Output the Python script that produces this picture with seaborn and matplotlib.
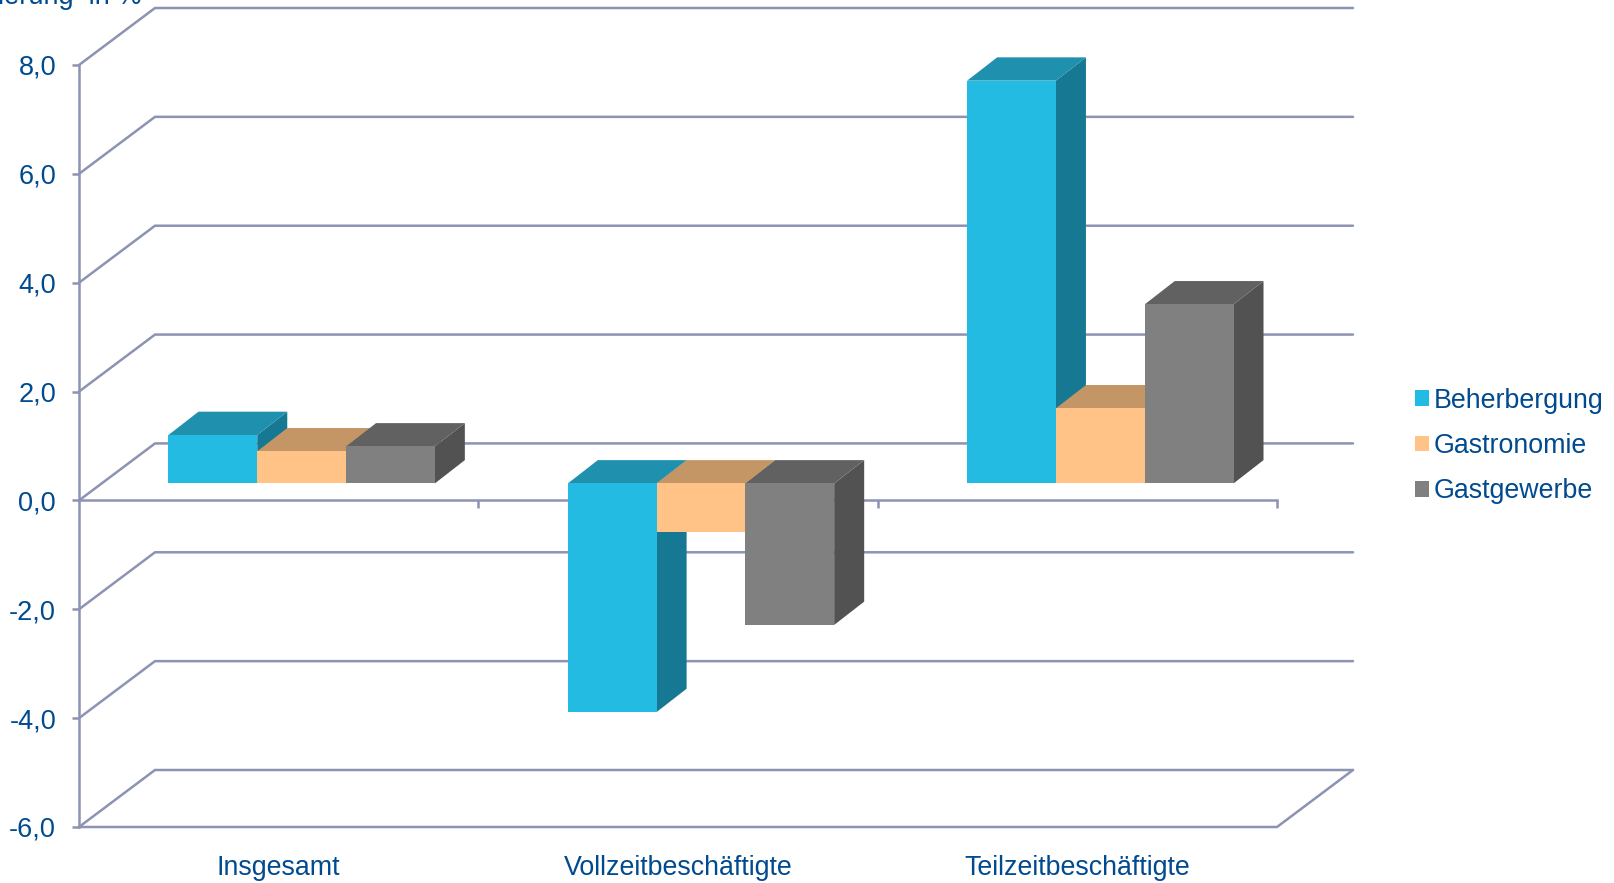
import matplotlib
matplotlib.use("Agg")
import matplotlib.pyplot as plt
from matplotlib.patches import Polygon
from matplotlib.transforms import Affine2D
import pandas as pd
import seaborn as sns

categories = ["Insgesamt", "Vollzeitbeschäftigte", "Teilzeitbeschäftigte"]
beherbergung = [0.89, -4.2, 7.4]
gastronomie = [0.59, -0.9, 1.38]
gastgewerbe = [0.68, -2.6, 3.29]
series_names = ["Beherbergung", "Gastronomie", "Gastgewerbe"]
front_colors = ["#24BBE3", "#FFC388", "#808080"]
top_colors = ["#1F90AE", "#C49666", "#616161"]
side_colors = ["#177893", "#A87F55", "#525252"]
y_ticks = [-6, -4, -2, 0, 2, 4, 6, 8]
y_labels = ["-6,0", "-4,0", "-2,0", "0,0", "2,0", "4,0", "6,0", "8,0"]

GRID = "#8C93B3"
TEXT = "#004A8F"
FONT = 19.3
FONT_Y = 19.5
LW = 1.8

sns.set_theme(style="white")
plt.rcParams["font.family"] = ["Liberation Sans", "DejaVu Sans"]

W, H = 1615, 883
fig = plt.figure(figsize=(W / 100, H / 100), dpi=100, facecolor="white")
ax = fig.add_axes([79 / W, (H - 827) / H, 1198 / W, 762 / H])
ax.patch.set_alpha(0)

df = pd.DataFrame({
    "Kategorie": categories * 3,
    "Wert": beherbergung + gastronomie + gastgewerbe,
    "Serie": [s for s in series_names for _ in categories],
})
sns.barplot(data=df, x="Kategorie", y="Wert", hue="Serie", hue_order=series_names,
            palette=front_colors, saturation=1, width=0.667, gap=0, errorbar=None,
            linewidth=0, ax=ax)
ax.set_xlim(-0.5, 2.5)
ax.set_ylim(-6, 8)

# pixel sizes of the pseudo 3D projection, converted to data units
px_x = 3 / 1198
px_y = 14 / 762
floor_dx, floor_dy = 76 * px_x, 57 * px_y
bar_dx, bar_dy = 30 * px_x, 23.3 * px_y
shift_dx, shift_dy = 23 * px_x, 17 * px_y

# walls: back lines and diagonals
for v in y_ticks:
    ax.plot([-0.5, -0.5 + floor_dx, 2.5 + floor_dx], [v, v + floor_dy, v + floor_dy],
            color=GRID, lw=LW, clip_on=False, zorder=1, solid_joinstyle="miter")
ax.plot([-0.5, 2.5, 2.5 + floor_dx], [-6, -6, -6 + floor_dy],
        color=GRID, lw=LW, clip_on=False, zorder=1)

# bars with side and top faces; later bars paint over earlier ones
shift = Affine2D().translate(shift_dx, shift_dy) + ax.transData
z = 3
for c in range(len(categories)):
    for s, container in enumerate(ax.containers):
        bar = container[c]
        x0 = bar.get_x()
        x1 = x0 + bar.get_width()
        val = bar.get_height() + bar.get_y()
        upper = max(val, 0)
        lower = min(val, 0)
        side = Polygon([(x1, lower), (x1 + bar_dx, lower + bar_dy),
                        (x1 + bar_dx, upper + bar_dy), (x1, upper)],
                       closed=True, facecolor=side_colors[s], edgecolor="none",
                       transform=shift, clip_on=False, zorder=z)
        top = Polygon([(x0, upper), (x1, upper), (x1 + bar_dx, upper + bar_dy),
                       (x0 + bar_dx, upper + bar_dy)],
                      closed=True, facecolor=top_colors[s], edgecolor="none",
                      transform=shift, clip_on=False, zorder=z)
        ax.add_patch(side)
        ax.add_patch(top)
        bar.set_transform(shift)
        bar.set_clip_on(False)
        bar.set_zorder(z + 1)
        z += 2

# axes
for name in ("top", "right"):
    ax.spines[name].set_visible(False)
ax.spines["left"].set_color(GRID)
ax.spines["left"].set_linewidth(LW)
ax.spines["bottom"].set_color(GRID)
ax.spines["bottom"].set_linewidth(LW)
ax.spines["bottom"].set_position(("data", 0))
ax.spines["bottom"].set_zorder(2)

ax.set_xlabel("")
ax.set_ylabel("")
ax.set_yticks(y_ticks, y_labels)
ax.set_xticks(range(3), categories)
ax.set_xticks([0.5, 1.5, 2.5], minor=True)
ax.tick_params(axis="y", direction="out", length=5, width=LW, color=GRID,
               labelcolor=TEXT, labelsize=FONT_Y, pad=11.5, left=True)
ax.tick_params(axis="x", which="major", length=0, labelcolor=TEXT, labelsize=FONT,
               pad=(855 - 500.4) * 0.72)
ax.tick_params(axis="x", which="minor", direction="out", length=5.5, width=LW,
               color=GRID, bottom=True)

handles, labels = ax.get_legend_handles_labels()
ax.legend(handles, labels, loc="center left", bbox_to_anchor=(1415 / W, (H - 446) / H),
          bbox_transform=fig.transFigure, frameon=False, fontsize=FONT,
          labelcolor=TEXT, handlelength=0.52, handleheight=0.52, handletextpad=0.19,
          labelspacing=0.72, borderpad=0, borderaxespad=0)

fig.text(141 / W, (H - 4) / H, "Veränderung  in %", ha="right", va="baseline",
         color=TEXT, fontsize=FONT_Y)

fig.savefig("out.png", dpi=100, facecolor="white")
